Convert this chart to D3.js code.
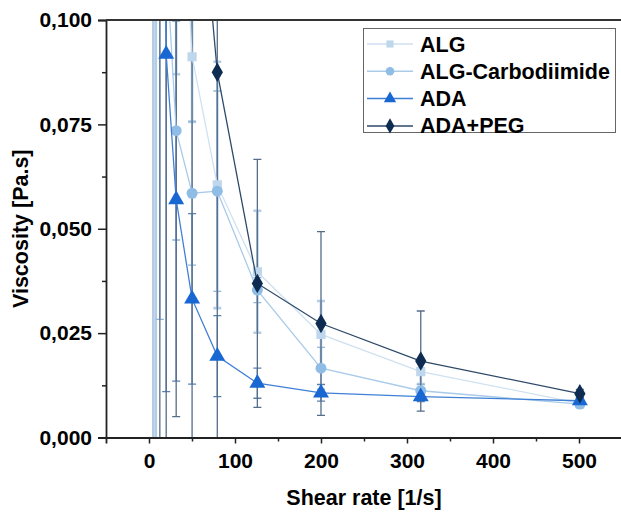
<!DOCTYPE html>
<html>
<head>
<meta charset="utf-8">
<script src="https://cdn.jsdelivr.net/npm/d3@7"></script>
<style>
  body { margin: 0; background: #fff; }
  svg text { font-family: "Liberation Sans", Arial, sans-serif; font-weight: bold; fill: #000; }
</style>
</head>
<body>
<svg id="chart" width="621" height="513"></svg>
<script>
"use strict";

// shear rates (1/s), log spaced
const shearRate = [5.01, 7.94, 12.6, 20.0, 31.6, 50.1, 79.4, 126, 200, 316, 501];

// viscosity means and errors (Pa.s), values above 0.1 fall outside the plot
const algMean  = [0.90, 0.55, 0.32, 0.22, 0.160, 0.0912, 0.0605, 0.0397, 0.0247, 0.0158, 0.0082];
const algErr   = [0.95, 0.60, 0.10, 0.08, 0.073, 0.0156, 0.0295, 0.0146, 0.0080, 0.0030, 0.0010];
const algcMean = [0.80, 0.50, 0.25, 0.115, 0.0735, 0.0585, 0.0590, 0.0353, 0.0166, 0.0112, 0.0080];
const algcErr  = [0.30, 0.20, 0.2217, 0.01, 0.0262, 0.0172, 0.0240, 0.0030, 0.0050, 0.0015, 0.0008];
const adaMean  = [0.70, 0.45, 0.25, 0.0918, 0.0570, 0.0332, 0.0195, 0.0130, 0.0107, 0.0098, 0.0088];
const adaErr   = [0.20, 0.15, 0.10, 0.0808, 0.0435, 0.0204, 0.0097, 0.0036, 0.0020, 0.0012, 0.0006];
const pegMean  = [1.00, 0.60, 0.35, 0.25, 0.200, 0.155, 0.0875, 0.0369, 0.0273, 0.0183, 0.0105];
const pegErr   = [0.40, 0.30, 0.40, 0.30, 0.195, 0.170, 0.0900, 0.0297, 0.0220, 0.0120, 0.0010];

const seriesNames = ["ALG", "ALG-Carbodiimide", "ADA", "ADA+PEG"];

const xTicks = [0, 100, 200, 300, 400, 500];
const yTicks = [0, 0.025, 0.05, 0.075, 0.1];

const series = [
  { name: seriesNames[0], mean: algMean,  err: algErr,  line: "#cfe1f0", mark: "#bfd7ec", errc: "#b4cde5", sym: d3.symbolSquare,   size: 85 },
  { name: seriesNames[1], mean: algcMean, err: algcErr, line: "#a9cbe9", mark: "#8fbde6", errc: "#93b5d6", sym: d3.symbolCircle,   size: 95 },
  { name: seriesNames[2], mean: adaMean,  err: adaErr,  line: "#3f80d6", mark: "#1867d2", errc: "#5a7fad", sym: d3.symbolTriangle, size: 110 },
  { name: seriesNames[3], mean: pegMean,  err: pegErr,  line: "#2e4a6a", mark: "#0e2c52", errc: "#556d8a", sym: d3.symbolDiamond,  size: 110 }
];

const margin = { left: 106, top: 20, right: 622, bottom: 437.5 };

const x = d3.scaleLinear().domain([-50, 550]).range([margin.left, margin.right]);
const y = d3.scaleLinear().domain([0, 0.1]).range([margin.bottom, margin.top]);

const svg = d3.select("#chart");
const fmt = d => d3.format(".3f")(d).replace(".", ",");

svg.append("defs").append("clipPath").attr("id", "plotClip")
  .append("rect")
  .attr("x", margin.left).attr("y", margin.top)
  .attr("width", margin.right - margin.left).attr("height", margin.bottom - margin.top);

const plot = svg.append("g").attr("clip-path", "url(#plotClip)");

// error bars
for (let s of series) {
  const g = plot.append("g").attr("stroke", s.errc).attr("stroke-width", s.name === "ALG" ? 2.6 : 1.3).attr("fill", "none");
  shearRate.forEach((r, i) => {
    const lo = s.mean[i] - s.err[i], hi = s.mean[i] + s.err[i];
    g.append("line").attr("x1", x(r)).attr("x2", x(r)).attr("y1", y(lo)).attr("y2", y(hi));
    g.append("line").attr("x1", x(r) - 4).attr("x2", x(r) + 4).attr("y1", y(lo)).attr("y2", y(lo));
    g.append("line").attr("x1", x(r) - 4).attr("x2", x(r) + 4).attr("y1", y(hi)).attr("y2", y(hi));
  });
}

// lines and markers
const lineGen = d3.line().x(d => x(d[0])).y(d => y(d[1]));
for (let s of series) {
  const pts = shearRate.map((r, i) => [r, s.mean[i]]);
  plot.append("path").datum(pts).attr("d", lineGen)
    .attr("fill", "none").attr("stroke", s.line).attr("stroke-width", 1.3);
  plot.append("g").selectAll("path").data(pts).enter().append("path")
    .attr("d", d3.symbol().type(s.sym).size(s.size))
    .attr("transform", d => "translate(" + x(d[0]) + "," + y(d[1]) + ")")
    .attr("fill", s.mark);
}

// axes
const axisColor = "#222";
svg.append("g").attr("transform", "translate(" + margin.left + ",0)")
  .call(d3.axisLeft(y).tickValues(yTicks).tickFormat(fmt).tickSize(8).tickPadding(6));
svg.append("g").attr("transform", "translate(" + margin.left + ",0)")
  .call(d3.axisLeft(y).tickValues([0.0125, 0.0375, 0.0625, 0.0875]).tickFormat("").tickSize(4))
  .select(".domain").remove();

svg.append("g").attr("transform", "translate(0," + margin.bottom + ")")
  .call(d3.axisBottom(x).tickValues(xTicks).tickSize(6).tickPadding(10));
svg.append("g").attr("transform", "translate(0," + margin.bottom + ")")
  .call(d3.axisBottom(x).tickValues([50, 150, 250, 350, 450]).tickFormat("").tickSize(4))
  .select(".domain").remove();

svg.selectAll(".tick line").attr("stroke", axisColor).attr("stroke-width", 1.5);
svg.selectAll(".domain").attr("stroke", axisColor).attr("stroke-width", 1.8);
svg.selectAll(".tick text").style("font-size", "21px").attr("fill", "#000");

// top frame line
svg.append("line").attr("x1", margin.left).attr("x2", 621).attr("y1", margin.top).attr("y2", margin.top)
  .attr("stroke", "#333").attr("stroke-width", 1.8);

// axis titles
svg.append("text").attr("x", (margin.left + margin.right) / 2).attr("y", 505)
  .attr("text-anchor", "middle").style("font-size", "21.5px").text("Shear rate [1/s]");
svg.append("text").attr("transform", "translate(28," + (margin.top + margin.bottom) / 2 + ") rotate(-90)")
  .attr("text-anchor", "middle").style("font-size", "21.5px").text("Viscosity [Pa.s]");

// legend
const legend = svg.append("g");
legend.append("rect").attr("x", 363.5).attr("y", 28.5).attr("width", 252).attr("height", 104)
  .attr("fill", "#fff").attr("stroke", "#666").attr("stroke-width", 1);
series.forEach((s, i) => {
  const cy = 44 + i * 27.3;
  legend.append("line").attr("x1", 367).attr("x2", 413).attr("y1", cy).attr("y2", cy)
    .attr("stroke", s.line).attr("stroke-width", 1.5);
  legend.append("path").attr("d", d3.symbol().type(s.sym).size(s.size * 0.6))
    .attr("transform", "translate(390," + cy + ")").attr("fill", s.mark);
  legend.append("text").attr("x", 420).attr("y", cy + 7.5).style("font-size", "21.5px").text(s.name);
});
</script>
</body>
</html>
